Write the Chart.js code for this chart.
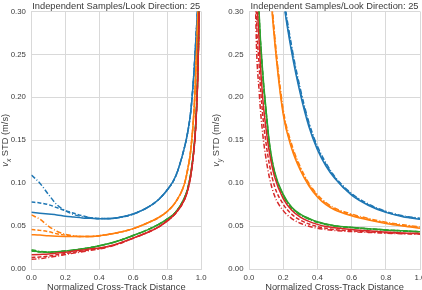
<!DOCTYPE html>
<html>
<head>
<meta charset="utf-8">
<script src="https://cdn.jsdelivr.net/npm/chart.js@4.4.1/dist/chart.umd.min.js"></script>
<style>
  html, body { margin: 0; padding: 0; background: #fff; overflow: hidden; width: 422px; height: 290px; position: relative; }
  canvas { position: absolute; top: 0; }
</style>
</head>
<body>
<canvas id="vx" width="211" height="290" style="left:0"></canvas>
<canvas id="vy" width="240" height="290" style="left:211px"></canvas>
<script>
const TITLE = "Independent Samples/Look Direction: 25"
const X_LABEL = "Normalized Cross-Track Distance"

const xTicks = [0, 0.2, 0.4, 0.6, 0.8, 1.0]
const xTickLabels = ["0.0", "0.2", "0.4", "0.6", "0.8", "1.0"]
const yTicks = [0, 0.05, 0.10, 0.15, 0.20, 0.25, 0.30]
const yTickLabels = ["0.00", "0.05", "0.10", "0.15", "0.20", "0.25", "0.30"]

// left panel: v_x STD
const xLeft = [0, 0.05, 0.1, 0.15, 0.2, 0.25, 0.3, 0.35, 0.4, 0.5, 0.6, 0.7, 0.75, 0.8, 0.85, 0.9, 0.92, 0.94, 0.96, 0.97, 0.98, 0.99, 1.0]

const blueVx      = [0.066, 0.065, 0.064, 0.063, 0.0615, 0.0605, 0.0595, 0.059, 0.0585, 0.0595, 0.064, 0.0735, 0.081, 0.092, 0.108, 0.14, 0.158, 0.185, 0.235, 0.27, 0.31, 0.40, 0.60]
const blueDashVx  = [0.078, 0.077, 0.075, 0.0715, 0.068, 0.065, 0.062, 0.0598, 0.0587, 0.0595, 0.064, 0.0735, 0.081, 0.092, 0.108, 0.14, 0.158, 0.185, 0.235, 0.27, 0.31, 0.40, 0.60]
const blueDotVx   = [0.1095, 0.100, 0.087, 0.075, 0.068, 0.0635, 0.061, 0.0595, 0.0587, 0.0595, 0.064, 0.0735, 0.081, 0.092, 0.108, 0.14, 0.158, 0.185, 0.235, 0.27, 0.31, 0.40, 0.60]

const orangeVx     = [0.040, 0.0395, 0.0388, 0.0383, 0.038, 0.0378, 0.0378, 0.038, 0.0388, 0.042, 0.047, 0.055, 0.060, 0.067, 0.078, 0.098, 0.115, 0.14, 0.19, 0.235, 0.29, 0.40, 0.60]
const orangeDashVx = [0.046, 0.045, 0.0435, 0.041, 0.0395, 0.0383, 0.0379, 0.038, 0.0388, 0.042, 0.047, 0.055, 0.060, 0.067, 0.078, 0.098, 0.115, 0.14, 0.19, 0.235, 0.29, 0.40, 0.60]
const orangeDotVx  = [0.063, 0.058, 0.050, 0.044, 0.0405, 0.0385, 0.0379, 0.038, 0.0388, 0.042, 0.047, 0.055, 0.060, 0.067, 0.078, 0.098, 0.115, 0.14, 0.19, 0.235, 0.29, 0.40, 0.60]

const greenVx     = [0.0215, 0.020, 0.0195, 0.020, 0.021, 0.022, 0.0235, 0.025, 0.027, 0.032, 0.039, 0.047, 0.052, 0.058, 0.066, 0.082, 0.093, 0.112, 0.145, 0.175, 0.225, 0.33, 0.60]
const greenDashVx = [0.021, 0.0198, 0.0194, 0.0199, 0.021, 0.022, 0.0235, 0.025, 0.027, 0.032, 0.039, 0.047, 0.052, 0.058, 0.066, 0.082, 0.093, 0.112, 0.145, 0.175, 0.225, 0.33, 0.60]
const greenDotVx  = [0.0225, 0.0205, 0.0197, 0.0200, 0.021, 0.022, 0.0235, 0.025, 0.027, 0.032, 0.039, 0.047, 0.052, 0.058, 0.066, 0.082, 0.093, 0.112, 0.145, 0.175, 0.225, 0.33, 0.60]

const redVx       = [0.0165, 0.017, 0.0175, 0.0185, 0.0195, 0.021, 0.022, 0.0235, 0.0245, 0.029, 0.036, 0.044, 0.049, 0.056, 0.065, 0.080, 0.091, 0.110, 0.143, 0.172, 0.222, 0.33, 0.60]
const redDashVx   = [0.0135, 0.014, 0.015, 0.0165, 0.018, 0.0195, 0.021, 0.0225, 0.0238, 0.0285, 0.036, 0.044, 0.049, 0.056, 0.065, 0.080, 0.091, 0.110, 0.143, 0.172, 0.222, 0.33, 0.60]
const redDotVx    = [0.0113, 0.012, 0.0135, 0.015, 0.0168, 0.0185, 0.020, 0.0218, 0.0233, 0.0282, 0.0358, 0.044, 0.049, 0.056, 0.065, 0.080, 0.091, 0.110, 0.143, 0.172, 0.222, 0.33, 0.60]

// right panel: v_y STD
const xRight = [0.02, 0.04, 0.06, 0.08, 0.1, 0.12, 0.15, 0.2, 0.25, 0.3, 0.35, 0.4, 0.45, 0.5, 0.6, 0.7, 0.8, 0.9, 1.0]

const blueVy      = [1.6, 1.1, 0.85, 0.68, 0.57, 0.49, 0.41, 0.315, 0.252, 0.204, 0.166, 0.139, 0.120, 0.106, 0.086, 0.074, 0.066, 0.061, 0.058]
const blueDashVy  = [1.62, 1.12, 0.86, 0.69, 0.578, 0.496, 0.415, 0.319, 0.256, 0.207, 0.169, 0.141, 0.122, 0.107, 0.087, 0.0748, 0.0666, 0.0615, 0.0585]
const blueDotVy   = [1.64, 1.13, 0.87, 0.70, 0.585, 0.503, 0.42, 0.323, 0.259, 0.21, 0.171, 0.143, 0.1235, 0.108, 0.088, 0.0755, 0.0672, 0.062, 0.059]

const orangeVy     = [1.2, 0.9, 0.65, 0.5, 0.41, 0.34, 0.265, 0.18, 0.14, 0.115, 0.097, 0.084, 0.075, 0.069, 0.062, 0.057, 0.053, 0.050, 0.0475]
const orangeDashVy = [1.22, 0.91, 0.66, 0.507, 0.416, 0.345, 0.269, 0.183, 0.1425, 0.117, 0.0985, 0.0853, 0.0762, 0.0700, 0.0630, 0.0579, 0.0538, 0.0508, 0.0482]
const orangeDotVy  = [1.24, 0.92, 0.67, 0.514, 0.422, 0.35, 0.273, 0.186, 0.145, 0.119, 0.100, 0.0866, 0.0774, 0.0711, 0.064, 0.0588, 0.0546, 0.0515, 0.0489]

const greenVy     = [0.8, 0.42, 0.295, 0.23, 0.185, 0.146, 0.113, 0.087, 0.072, 0.064, 0.059, 0.055, 0.0525, 0.0505, 0.0485, 0.047, 0.0455, 0.0445, 0.0435]
const greenDashVy = [0.79, 0.415, 0.292, 0.228, 0.183, 0.145, 0.112, 0.0862, 0.0713, 0.0634, 0.0585, 0.0546, 0.0522, 0.0502, 0.0483, 0.0468, 0.0454, 0.0444, 0.0434]
const greenDotVy  = [0.78, 0.41, 0.289, 0.226, 0.181, 0.143, 0.111, 0.0855, 0.0707, 0.0629, 0.0581, 0.0543, 0.0519, 0.0500, 0.0481, 0.0466, 0.0452, 0.0442, 0.0433]

const redVy       = [0.8, 0.38, 0.262, 0.2, 0.163, 0.135, 0.107, 0.082, 0.0685, 0.0605, 0.0555, 0.052, 0.0495, 0.048, 0.046, 0.0445, 0.043, 0.042, 0.0415]
const redDashVy   = [0.7, 0.33, 0.235, 0.18, 0.146, 0.121, 0.096, 0.0755, 0.0638, 0.0568, 0.0525, 0.0495, 0.0475, 0.046, 0.0445, 0.0432, 0.0422, 0.0414, 0.041]
const redDotVy    = [0.6, 0.29, 0.205, 0.158, 0.128, 0.106, 0.085, 0.068, 0.0588, 0.0533, 0.0498, 0.0475, 0.046, 0.0449, 0.0436, 0.0426, 0.0417, 0.0411, 0.0406]

const COLORS = { blue: "#1f77b4", orange: "#ff7f0e", green: "#2ca02c", red: "#d62728" }
const FONT = "'Liberation Sans', Arial, sans-serif"
const TEXT = "#3a3a3a"
const GRID = "#d9d9d9"

function series(xs, ys, color, style, order) {
  const dash = style === "dash" ? [4, 2] : style === "dot" ? [5, 2, 1, 2] : []
  return {
    data: xs.map((x, i) => ({ x, y: ys[i] })),
    borderColor: color,
    borderWidth: 1.5,
    borderDash: dash,
    pointRadius: 0,
    cubicInterpolationMode: "monotone",
    order
  }
}

// title, axis labels (with italic v and subscript)
const labelsPlugin = {
  id: "panelLabels",
  afterDraw(chart, args, opts) {
    const { ctx, chartArea: a } = chart
    const cx = (a.left + a.right) / 2
    ctx.save()
    ctx.fillStyle = TEXT
    ctx.textAlign = "center"
    ctx.textBaseline = "alphabetic"
    ctx.font = `9.3px ${FONT}`
    ctx.fillText(TITLE, cx, 9.3)
    ctx.fillText(X_LABEL, cx, 289.8)

    // rotated y label
    const parts = [
      { t: "v", f: `italic 9.3px ${FONT}`, dy: 0 },
      { t: opts.sub, f: `italic 6.6px ${FONT}`, dy: 2.2 },
      { t: " STD (m/s)", f: `9.3px ${FONT}`, dy: 0 }
    ]
    let total = 0
    parts.forEach(p => { ctx.font = p.f; p.w = ctx.measureText(p.t).width; total += p.w })
    ctx.translate(8.3, (a.top + a.bottom) / 2)
    ctx.rotate(-Math.PI / 2)
    ctx.textAlign = "left"
    let x = -total / 2
    parts.forEach(p => { ctx.font = p.f; ctx.fillText(p.t, x, p.dy); x += p.w })
    ctx.restore()
  }
}

function makeChart(id, sub, leftWidth, rightPad, xs, sets) {
  const datasets = [
    series(xs, sets[0], COLORS.blue, "solid", 30),
    series(xs, sets[1], COLORS.blue, "dash", 31),
    series(xs, sets[2], COLORS.blue, "dot", 32),
    series(xs, sets[3], COLORS.orange, "solid", 20),
    series(xs, sets[4], COLORS.orange, "dash", 21),
    series(xs, sets[5], COLORS.orange, "dot", 22),
    series(xs, sets[6], COLORS.green, "solid", 10),
    series(xs, sets[7], COLORS.green, "dash", 11),
    series(xs, sets[8], COLORS.green, "dot", 12),
    series(xs, sets[9], COLORS.red, "solid", 0),
    series(xs, sets[10], COLORS.red, "dash", 1),
    series(xs, sets[11], COLORS.red, "dot", 2)
  ]
  return new Chart(document.getElementById(id), {
    type: "line",
    data: { datasets },
    options: {
      responsive: false,
      animation: false,
      devicePixelRatio: 1,
      layout: { padding: { top: 11.5, right: rightPad, left: 0, bottom: 0 } },
      plugins: {
        legend: { display: false },
        tooltip: { enabled: false },
        panelLabels: { sub }
      },
      scales: {
        x: {
          type: "linear",
          min: 0,
          max: 1,
          afterBuildTicks: s => { s.ticks = xTicks.map(v => ({ value: v })) },
          afterFit: s => { s.height = 21 },
          ticks: {
            callback: (v, i) => xTickLabels[i],
            color: TEXT,
            padding: 4.5,
            maxRotation: 0,
            font: { family: FONT, size: 7.8 }
          },
          grid: { color: GRID, lineWidth: 1, drawTicks: false },
          border: { color: GRID, width: 1 }
        },
        y: {
          min: 0,
          max: 0.3,
          afterBuildTicks: s => { s.ticks = yTicks.map(v => ({ value: v })) },
          afterFit: s => { s.width = leftWidth },
          ticks: {
            callback: (v, i) => yTickLabels[i],
            color: TEXT,
            padding: 5.5,
            font: { family: FONT, size: 7.8 }
          },
          grid: { color: GRID, lineWidth: 1, drawTicks: false },
          border: { color: GRID, width: 1 }
        }
      }
    },
    plugins: [labelsPlugin]
  })
}

makeChart("vx", "x", 31.4, 8, xLeft, [
  blueVx, blueDashVx, blueDotVx,
  orangeVx, orangeDashVx, orangeDotVx,
  greenVx, greenDashVx, greenDotVx,
  redVx, redDashVx, redDotVx
])

makeChart("vy", "y", 38, 31, xRight, [
  blueVy, blueDashVy, blueDotVy,
  orangeVy, orangeDashVy, orangeDotVy,
  greenVy, greenDashVy, greenDotVy,
  redVy, redDashVy, redDotVy
])
</script>
</body>
</html>
